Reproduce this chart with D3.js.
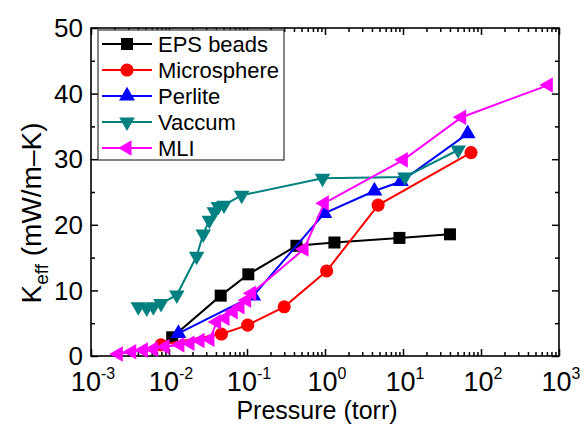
<!DOCTYPE html>
<meta charset="utf-8">
<style>
body { margin: 0; background: #fff; }
svg { display: block; font-family: Arial, "Liberation Sans", sans-serif; }
.axis line { stroke: #000; stroke-width: 1.5px; }
.axis path { display: none; }
.series path.line { fill: none; stroke-width: 2px; }
</style>
<body>
<div id="chart"></div>
<script src="https://d3js.org/d3.v7.min.js"></script>
<script>
// series (pressure in torr, Keff in mW/m-K)
var seriesNames = ["EPS beads", "Microsphere", "Perlite", "Vaccum", "MLI"];
var seriesColors = ["#000000", "#ff0000", "#0000ff", "#008080", "#ff00ff"];

var epsP = [0.011, 0.046, 0.104, 0.43, 1.32, 9.0, 40];
var epsK = [2.85, 9.2, 12.45, 16.8, 17.3, 18.0, 18.55];

var microP = [0.0079, 0.047, 0.102, 0.30, 1.05, 4.8, 74.5];
var microK = [1.7, 3.35, 4.7, 7.5, 12.96, 23.0, 31.0];

var perliteP = [0.0132, 0.12, 0.98, 4.3, 9.4, 67.5];
var perliteK = [3.45, 9.15, 21.75, 25.15, 26.6, 33.9];

var vacP = [0.00404, 0.00518, 0.0063, 0.0079, 0.0126, 0.0226, 0.0275, 0.0329, 0.0381, 0.0429, 0.0507, 0.0855, 0.93, 10.6, 51];
var vacK = [7.5, 7.3, 7.5, 8.0, 9.3, 15.2, 18.6, 20.7, 22.0, 22.8, 23.0, 24.5, 27.1, 27.3, 31.4];

var mliP = [0.00224, 0.00333, 0.00469, 0.0063, 0.0089, 0.0138, 0.0186, 0.025, 0.0335, 0.0409, 0.0522, 0.0667, 0.0813, 0.099, 0.115, 0.538, 0.98, 10.1, 56.6, 730];
var mliK = [0.3, 0.65, 0.9, 1.05, 1.4, 1.7, 1.95, 2.35, 2.55, 5.2, 5.75, 6.75, 7.5, 8.5, 9.55, 16.3, 23.3, 29.9, 36.4, 41.3];

var xTicks = [1e-3, 1e-2, 1e-1, 1e0, 1e1, 1e2, 1e3];
var xTickExp = ["-3", "-2", "-1", "0", "1", "2", "3"];
var yTicks = [0, 10, 20, 30, 40, 50];
var yMinor = [5, 15, 25, 35, 45];

var seriesP = [epsP, microP, perliteP, vacP, mliP];
var seriesK = [epsK, microK, perliteK, vacK, mliK];

var width = 580, height = 424,
    margin = {top: 28, right: 21, bottom: 68, left: 91};

var x = d3.scaleLog().domain([1e-3, 1e3]).range([margin.left, width - margin.right]);
var y = d3.scaleLinear().domain([0, 50]).range([height - margin.bottom, margin.top]);

var svg = d3.select("#chart").append("svg")
    .attr("width", width)
    .attr("height", height);

// minor log ticks
var xMinor = [];
for (var e = -3; e < 3; e++) {
  for (var m = 2; m <= 9; m++) xMinor.push(m * Math.pow(10, e));
}

function addAxis(axisFn, scale, values, size, transform) {
  svg.append("g")
    .attr("class", "axis")
    .attr("transform", transform)
    .call(axisFn(scale).tickValues(values).tickSizeInner(-size).tickSizeOuter(0).tickFormat(""));
}
var x0 = margin.left, x1 = width - margin.right, y0 = height - margin.bottom, y1 = margin.top;
addAxis(d3.axisBottom, x, xTicks, 7, "translate(0," + y0 + ")");
addAxis(d3.axisBottom, x, xMinor, 4, "translate(0," + y0 + ")");
addAxis(d3.axisTop, x, xTicks, 7, "translate(0," + y1 + ")");
addAxis(d3.axisTop, x, xMinor, 4, "translate(0," + y1 + ")");
addAxis(d3.axisLeft, y, yTicks, 7, "translate(" + x0 + ",0)");
addAxis(d3.axisLeft, y, yMinor, 4, "translate(" + x0 + ",0)");
addAxis(d3.axisRight, y, yTicks, 7, "translate(" + x1 + ",0)");
addAxis(d3.axisRight, y, yMinor, 4, "translate(" + x1 + ",0)");

svg.append("rect")
  .attr("x", x0).attr("y", y1)
  .attr("width", x1 - x0).attr("height", y0 - y1)
  .attr("fill", "none").attr("stroke", "#000").attr("stroke-width", 1.6);

// tick labels
var xl = svg.append("g").selectAll("text")
  .data(xTicks)
  .enter().append("text")
  .attr("x", function(d) { return x(d) + 2; })
  .attr("y", y0 + 35)
  .attr("text-anchor", "middle")
  .style("font-size", "27px");
xl.append("tspan").text("10");
xl.append("tspan").attr("dy", -12).style("font-size", "16px").text(function(d, i) { return xTickExp[i]; });

svg.append("g").selectAll("text")
  .data(yTicks)
  .enter().append("text")
  .attr("x", x0 - 8)
  .attr("y", function(d) { return y(d); })
  .attr("dy", "0.35em")
  .attr("text-anchor", "end")
  .style("font-size", "26px")
  .text(function(d) { return d; });

// axis titles
svg.append("text")
  .attr("x", (x0 + x1) / 2 - 8)
  .attr("y", 419)
  .attr("text-anchor", "middle")
  .style("font-size", "25px")
  .text("Pressure (torr)");

var yt = svg.append("text")
  .attr("transform", "translate(41,213) rotate(-90)")
  .attr("text-anchor", "middle")
  .style("font-size", "28px");
yt.append("tspan").text("K");
yt.append("tspan").attr("dy", 7).style("font-size", "19px").text("eff");
yt.append("tspan").attr("dy", -7).text(" (mW/m\u2013K)");

// markers
var symbols = [d3.symbolSquare, d3.symbolCircle, d3.symbolTriangle, d3.symbolTriangle, d3.symbolTriangle];
var symbolSizes = [144, 135, 110, 105, 105];
var symbolRot = [0, 0, 0, 180, -90];

var line = d3.line()
  .x(function(d) { return x(d[0]); })
  .y(function(d) { return y(d[1]); });

seriesNames.forEach(function(name, i) {
  var pts = seriesP[i].map(function(p, j) { return [p, seriesK[i][j]]; });
  var g = svg.append("g").attr("class", "series");
  g.append("path").attr("class", "line")
    .attr("d", line(pts))
    .attr("stroke", seriesColors[i]);
  g.selectAll(".pt")
    .data(pts)
    .enter().append("path")
    .attr("class", "pt")
    .attr("d", d3.symbol().type(symbols[i]).size(symbolSizes[i]))
    .attr("transform", function(d) { return "translate(" + x(d[0]) + "," + y(d[1]) + ") rotate(" + symbolRot[i] + ")"; })
    .attr("fill", seriesColors[i]);
});

// legend
var legend = svg.append("g");
legend.append("rect")
  .attr("x", 98).attr("y", 30)
  .attr("width", 186).attr("height", 130)
  .attr("fill", "#fff").attr("stroke", "#333").attr("stroke-width", 1.2);

var items = legend.selectAll(".item")
  .data(seriesNames)
  .enter().append("g")
  .attr("class", "item")
  .attr("transform", function(d, i) { return "translate(0," + (44 + i * 26) + ")"; });
items.append("line")
  .attr("x1", 102).attr("x2", 152)
  .attr("stroke", function(d, i) { return seriesColors[i]; })
  .attr("stroke-width", 2);
items.append("path")
  .attr("d", function(d, i) { return d3.symbol().type(symbols[i]).size(symbolSizes[i])(); })
  .attr("transform", function(d, i) { return "translate(127,0) rotate(" + symbolRot[i] + ")"; })
  .attr("fill", function(d, i) { return seriesColors[i]; });
items.append("text")
  .attr("x", 158)
  .attr("dy", "0.36em")
  .style("font-size", "22px")
  .text(function(d) { return d; });
</script>
</body>
